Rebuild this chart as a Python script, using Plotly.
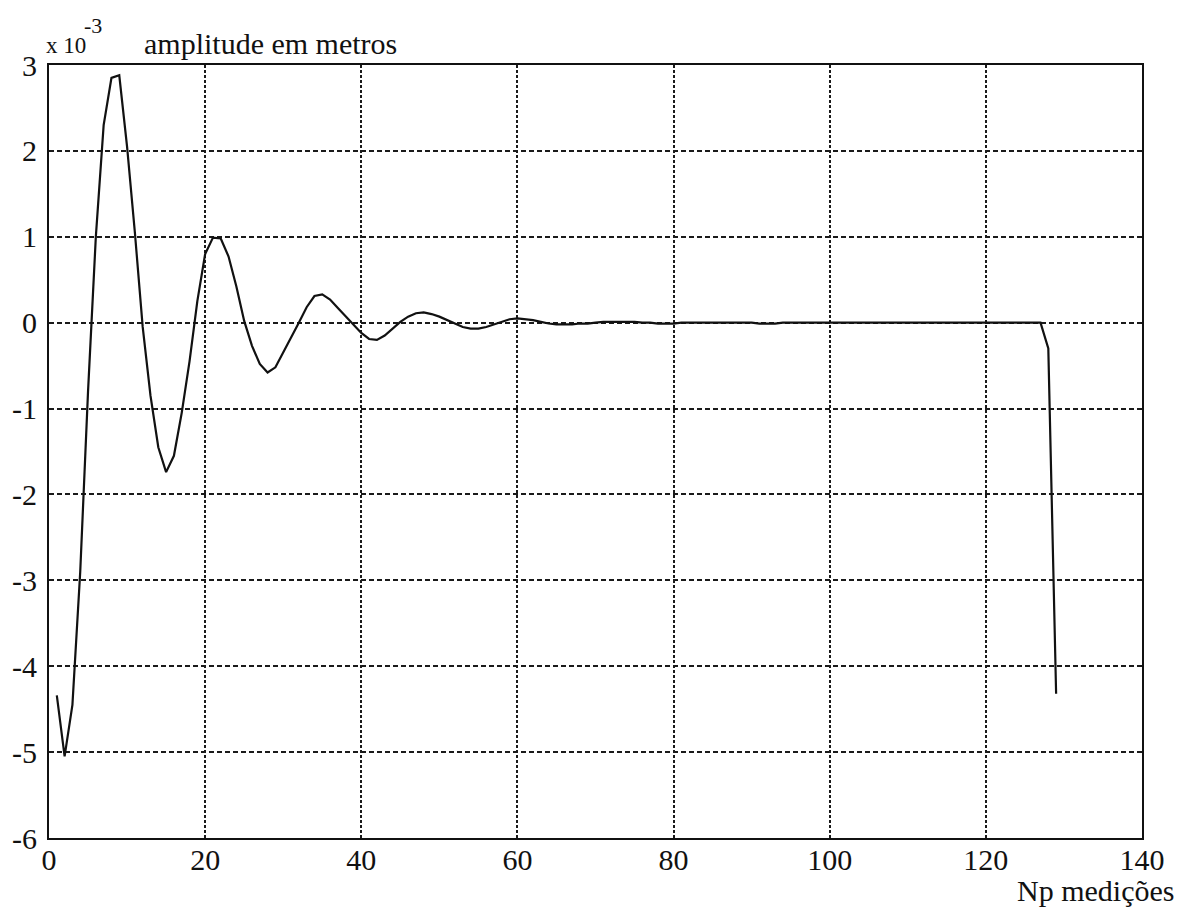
import plotly.graph_objects as go

# Sample index (Np medições)
np_medicoes = list(range(1, 130))

# Amplitude in units of 1e-3 metres
amplitude_e3 = [
    -4.34, -5.05, -4.45, -2.90, -0.80, 1.00, 2.30, 2.85, 2.88, 2.05,
    1.05, -0.05, -0.85, -1.45, -1.74, -1.55, -1.05, -0.45, 0.25, 0.80,
    0.99, 0.98, 0.77, 0.42, 0.02, -0.27, -0.48, -0.58, -0.52, -0.35,
    -0.17, 0.00, 0.18, 0.31, 0.33, 0.27, 0.17, 0.07, -0.02, -0.12,
    -0.19, -0.20, -0.15, -0.07, 0.01, 0.07, 0.11, 0.12, 0.10, 0.07,
    0.03, -0.01, -0.05, -0.07, -0.07, -0.05, -0.02, 0.01, 0.04, 0.05,
    0.04, 0.03, 0.01, -0.01, -0.02, -0.02, -0.02, -0.01, -0.01, 0.00,
    0.01, 0.01, 0.01, 0.01, 0.01, 0.00, 0.00, -0.01, -0.01, -0.01,
    0.00, 0.00, 0.00, 0.00, 0.00, 0.00, 0.00, 0.00, 0.00, 0.00,
    -0.01, -0.01, -0.01, 0.00, 0.00, 0.00, 0.00, 0.00, 0.00, 0.00,
    0.00, 0.00, 0.00, 0.00, 0.00, 0.00, 0.00, 0.00, 0.00, 0.00,
    0.00, 0.00, 0.00, 0.00, 0.00, 0.00, 0.00, 0.00, 0.00, 0.00,
    0.00, 0.00, 0.00, 0.00, 0.00, 0.00, 0.00, -0.30, -4.32,
]

x_ticks = [0, 20, 40, 60, 80, 100, 120, 140]
y_ticks = [-6, -5, -4, -3, -2, -1, 0, 1, 2, 3]

FONT = "Liberation Serif"
FS = 30
L, R, T, B = 49, 36, 65, 75
PW = 1178 - L - R
PH = 913 - T - B


def px_x(p):
    return (p - L) / PW


def px_y(p):
    return (913 - B - p) / PH


fig = go.Figure()
fig.add_trace(go.Scatter(
    x=np_medicoes, y=amplitude_e3, mode="lines",
    line=dict(color="#111111", width=2.2),
    showlegend=False, hoverinfo="skip",
))

fig.update_layout(
    width=1178, height=913,
    margin=dict(l=L, r=R, t=T, b=B),
    paper_bgcolor="white", plot_bgcolor="white",
    font=dict(family=FONT, size=FS, color="#111111"),
    xaxis=dict(
        range=[0, 140], tickvals=x_ticks, ticktext=[str(v) for v in x_ticks],
        showgrid=True, gridcolor="#1a1a1a", gridwidth=1.5, griddash="3px,2px",
        showline=True, linecolor="#111111", linewidth=1.8, mirror=True,
        ticks="", zeroline=False, ticklabelstandoff=0,
    ),
    yaxis=dict(
        range=[-6, 3], tickvals=y_ticks, ticktext=[str(v) for v in y_ticks],
        showgrid=True, gridcolor="#1a1a1a", gridwidth=1.5, griddash="5px,3px",
        showline=True, linecolor="#111111", linewidth=1.8, mirror=True,
        ticks="", zeroline=False, ticklabelstandoff=4,
    ),
)
try:
    fig.update_xaxes(ticklabelstandoff=-6)
except ValueError:
    pass

fig.add_annotation(
    text="x 10", xref="paper", yref="paper",
    x=px_x(44), y=px_y(45), xanchor="left", yanchor="middle",
    showarrow=False, font=dict(family=FONT, size=23),
)
fig.add_annotation(
    text="-3", xref="paper", yref="paper",
    x=px_x(82), y=px_y(26), xanchor="left", yanchor="middle",
    showarrow=False, font=dict(family=FONT, size=22),
)
fig.add_annotation(
    text="amplitude em metros", xref="paper", yref="paper",
    x=px_x(142), y=px_y(43), xanchor="left", yanchor="middle",
    showarrow=False, font=dict(family=FONT, size=FS),
)
fig.add_annotation(
    text="Np medições", xref="paper", yref="paper",
    x=px_x(1176), y=px_y(890), xanchor="right", yanchor="middle",
    showarrow=False, font=dict(family=FONT, size=FS),
)

fig.write_html("out.html")
